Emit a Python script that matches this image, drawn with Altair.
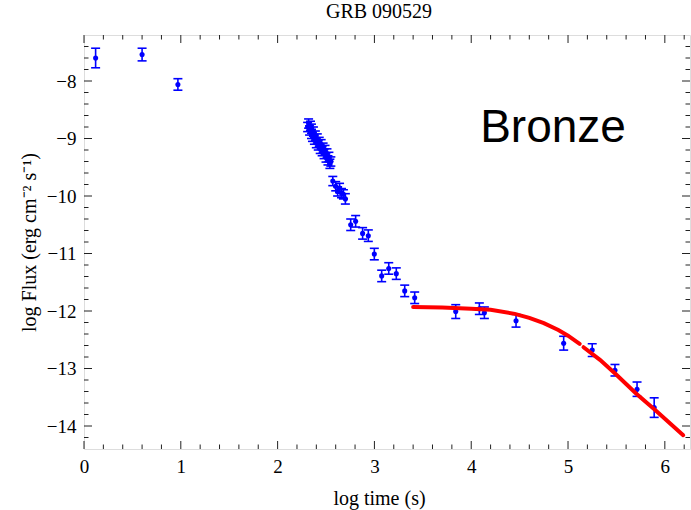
import altair as alt
import pandas as pd

# Light curve of GRB 090529: log10 time (s), log10 flux (erg cm^-2 s^-1), 1-sigma error
log_t = [0.12, 0.60, 0.97,
         2.31, 2.32, 2.33, 2.34, 2.35, 2.35, 2.36, 2.37, 2.38, 2.39, 2.40, 2.41, 2.42,
         2.43, 2.44, 2.45, 2.46, 2.47, 2.48, 2.49, 2.50, 2.51, 2.52, 2.53, 2.54, 2.55,
         2.57, 2.60, 2.62, 2.64, 2.66, 2.68, 2.70,
         2.755, 2.806, 2.878, 2.937, 2.999, 3.075, 3.148, 3.226, 3.313, 3.416,
         3.84, 4.084, 4.136, 4.463, 4.955, 5.25, 5.485, 5.713, 5.89]
log_f = [-7.60, -7.54, -8.06,
         -8.80, -8.74, -8.86, -8.78, -8.92, -8.83, -8.97, -8.88, -9.02, -8.95, -9.08, -9.00, -9.12,
         -9.06, -9.18, -9.10, -9.22, -9.16, -9.27, -9.20, -9.33, -9.26, -9.38, -9.32, -9.44, -9.40,
         -9.74, -9.83, -9.92, -9.86, -9.95, -9.97, -10.05,
         -10.50, -10.44, -10.65, -10.69, -11.01, -11.39, -11.26, -11.35, -11.65, -11.77,
         -12.01, -11.96, -12.03, -12.17, -12.56, -12.68, -13.03, -13.36, -13.68]
err = [0.17, 0.11, 0.10,
       0.08, 0.08, 0.08, 0.08, 0.08, 0.08, 0.08, 0.08, 0.08, 0.08, 0.08, 0.08, 0.08,
       0.08, 0.08, 0.08, 0.08, 0.08, 0.08, 0.08, 0.08, 0.08, 0.08, 0.08, 0.08, 0.08,
       0.08, 0.08, 0.08, 0.08, 0.08, 0.08, 0.09,
       0.10, 0.10, 0.10, 0.10, 0.10, 0.10, 0.10, 0.10, 0.10, 0.10,
       0.12, 0.10, 0.10, 0.11, 0.12, 0.11, 0.10, 0.125, 0.17]

# Fitted afterglow model (plateau + decay), drawn in two segments
fit_t = [3.40, 3.70, 4.00, 4.20, 4.45, 4.60, 4.75, 4.90, 5.00, 5.12,
         5.16, 5.33, 5.50, 5.70, 5.90, 6.19]
fit_f = [-11.93, -11.94, -11.96, -11.98, -12.05, -12.12, -12.21, -12.33, -12.43, -12.57,
         -12.63, -12.85, -13.11, -13.43, -13.72, -14.16]
fit_seg = [1] * 10 + [2] * 6

# Frame tick positions
x_major = [0, 1, 2, 3, 4, 5, 6]
x_minor = [0.2, 0.4, 0.6, 0.8, 1.2, 1.4, 1.6, 1.8, 2.2, 2.4, 2.6, 2.8, 3.2, 3.4, 3.6, 3.8,
           4.2, 4.4, 4.6, 4.8, 5.2, 5.4, 5.6, 5.8, 6.2]
y_major = [-8, -9, -10, -11, -12, -13, -14]
y_minor = [-7.4, -7.6, -7.8, -8.2, -8.4, -8.6, -8.8, -9.2, -9.4, -9.6, -9.8,
           -10.2, -10.4, -10.6, -10.8, -11.2, -11.4, -11.6, -11.8, -12.2, -12.4, -12.6, -12.8,
           -13.2, -13.4, -13.6, -13.8, -14.2]

W, H = 606, 414
BLUE = "#0000ff"
RED = "#ff0000"
SERIF = "Liberation Serif"

xs = alt.Scale(domain=[0, 6.26], nice=False, zero=False)
ys = alt.Scale(domain=[-14.4, -7.2], nice=False, zero=False)

obs = pd.DataFrame({"t": log_t, "f": log_f, "e": err})
obs["lo"] = obs["f"] - obs["e"]
obs["hi"] = obs["f"] + obs["e"]
fit = pd.DataFrame({"t": fit_t, "f": fit_f, "seg": fit_seg})

x_axis = alt.Axis(title="log time  (s)", ticks=False, tickSize=0, domain=False, grid=False,
                  values=x_major, labelFont=SERIF, labelFontSize=19, labelColor="black",
                  labelPadding=8, labelFlush=False, titleFont=SERIF, titleFontSize=20,
                  titleFontWeight="normal", titleColor="black", titlePadding=12,
                  titleX=295, titleAlign="center")
y_axis = alt.Axis(title="log Flux (erg cm⁻² s⁻¹)", ticks=False, tickSize=0, domain=False,
                  grid=False, values=y_major, labelFont=SERIF, labelFontSize=19,
                  labelColor="black", labelPadding=8, labelFlush=False, titleFont=SERIF,
                  titleFontSize=20, titleFontWeight="normal", titleColor="black",
                  titlePadding=7)


def X(field):
    return alt.X(field, scale=xs, axis=x_axis)


def Y(field):
    return alt.Y(field, scale=ys, axis=y_axis)


bars = alt.Chart(obs).mark_rule(color=BLUE, strokeWidth=1.6).encode(
    x=X("t:Q"), y=Y("lo:Q"), y2="hi:Q",
)
caps = alt.Chart(obs).transform_fold(["lo", "hi"], as_=["end", "v"]).mark_tick(
    color=BLUE, orient="horizontal", thickness=1.6, size=9, opacity=1
).encode(x=X("t:Q"), y=Y("v:Q"))
pts = alt.Chart(obs).mark_circle(color=BLUE, size=26, opacity=1).encode(
    x=X("t:Q"), y=Y("f:Q"),
)
model = alt.Chart(fit).mark_line(color=RED, strokeWidth=4, strokeCap="round").encode(
    x=X("t:Q"), y=Y("f:Q"), detail="seg:N", order="t:Q",
)


def xticks(vals, length):
    d = pd.DataFrame({"v": vals})
    bottom = alt.Chart(d).mark_rule(color="#222", strokeWidth=1).encode(
        x=X("v:Q"), y=alt.value(H), y2=alt.value(H - length))
    top = alt.Chart(d).mark_rule(color="#222", strokeWidth=1).encode(
        x=X("v:Q"), y=alt.value(0), y2=alt.value(length))
    return [bottom, top]


def yticks(vals, length):
    d = pd.DataFrame({"v": vals})
    left = alt.Chart(d).mark_rule(color="#222", strokeWidth=1).encode(
        y=Y("v:Q"), x=alt.value(0), x2=alt.value(length))
    right = alt.Chart(d).mark_rule(color="#222", strokeWidth=1).encode(
        y=Y("v:Q"), x=alt.value(W), x2=alt.value(W - length))
    return [left, right]


label = alt.Chart(pd.DataFrame({"s": ["Bronze"]})).mark_text(
    font="Liberation Sans", fontSize=46, color="black", align="center", baseline="middle"
).encode(text="s:N", x=alt.value(469), y=alt.value(93))

layers = ([bars, caps, pts, model]
          + xticks(x_major, 8) + xticks(x_minor, 4.5) + yticks(y_major, 8) + yticks(y_minor, 4.5)
          + [label])

chart = alt.layer(*layers).properties(
    width=W,
    height=H,
    autosize=alt.AutoSizeParams(type="none"),
    padding={"left": 84, "top": 35, "right": 1, "bottom": 61},
    title=alt.TitleParams("GRB 090529", font=SERIF, fontSize=20, fontWeight="normal",
                          color="black", anchor="middle", dx=-8, offset=13),
).configure_view(stroke="black", strokeWidth=1).configure(background="white")

chart.save("out.html", embed_options={"renderer": "svg", "actions": False})
